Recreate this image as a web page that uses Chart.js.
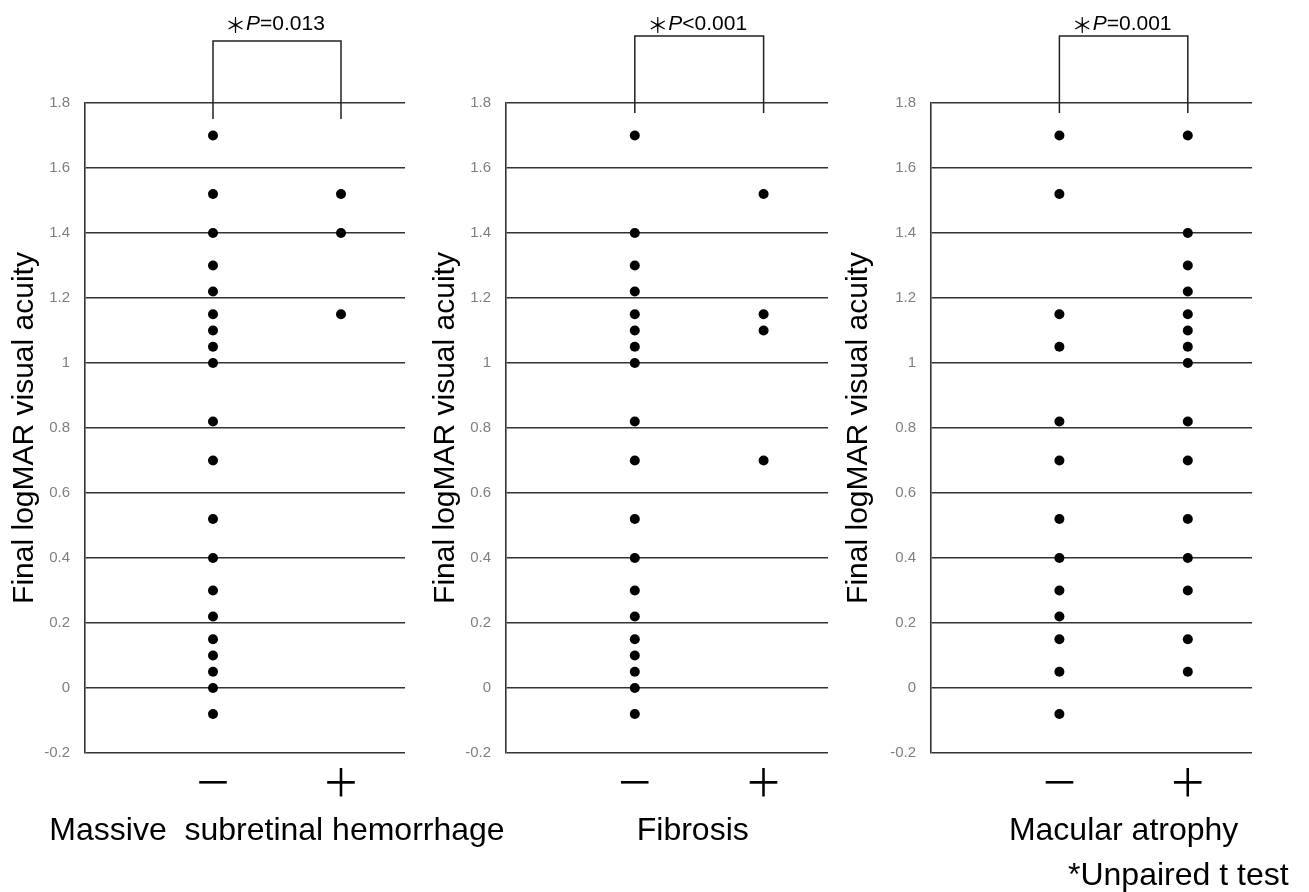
<!DOCTYPE html>
<html>
<head>
<meta charset="utf-8">
<script src="https://cdn.jsdelivr.net/npm/chart.js@4.4.1/dist/chart.umd.min.js"></script>
<style>
  html, body { margin: 0; padding: 0; background: #ffffff; }
  body { width: 1309px; height: 892px; position: relative; overflow: hidden; }
  .panel { position: absolute; top: 0; }
  #note { position: absolute; left: 1068px; top: 857px; font-family: "Liberation Sans", Arial, sans-serif;
          font-size: 32px; line-height: 34px; color: #000; white-space: nowrap; }
</style>
</head>
<body>
<div class="panel" style="left:0px"><canvas id="c1" width="520" height="892"></canvas></div>
<div class="panel" style="left:420px"><canvas id="c2" width="440" height="892"></canvas></div>
<div class="panel" style="left:835px"><canvas id="c3" width="474" height="892"></canvas></div>
<div id="note">*Unpaired t test</div>
<script>
// ---- data ----
const categories = ['－', '＋'];           // x categories (absent / present)
const yAxisTitle = 'Final logMAR visual acuity';
const groupTitles = ['Massive  subretinal hemorrhage', 'Fibrosis', 'Macular atrophy'];
const pLabels = ['=0.013', '<0.001', '=0.001'];

const hemorrhageMinus = [1.70, 1.52, 1.40, 1.30, 1.22, 1.15, 1.10, 1.05, 1.00, 0.82, 0.70, 0.52, 0.40, 0.30, 0.22, 0.15, 0.10, 0.05, 0.00, -0.08];
const hemorrhagePlus  = [1.52, 1.40, 1.15];

const fibrosisMinus = [1.70, 1.40, 1.30, 1.22, 1.15, 1.10, 1.05, 1.00, 0.82, 0.70, 0.52, 0.40, 0.30, 0.22, 0.15, 0.10, 0.05, 0.00, -0.08];
const fibrosisPlus  = [1.52, 1.15, 1.10, 0.70];

const atrophyMinus = [1.70, 1.52, 1.15, 1.05, 0.82, 0.70, 0.52, 0.40, 0.30, 0.22, 0.15, 0.05, -0.08];
const atrophyPlus  = [1.70, 1.40, 1.30, 1.22, 1.15, 1.10, 1.05, 1.00, 0.82, 0.70, 0.52, 0.40, 0.30, 0.15, 0.05];

const yMin = -0.2, yMax = 1.8, yStep = 0.2;

// ---- drawing ----
const LINE = '#333333';
const SANS = '"Liberation Sans", Arial, sans-serif';
const CJK = '"Noto Sans CJK JP", "Noto Sans", sans-serif';

const annotate = {
  id: 'annotate',
  afterDraw(chart, args, o) {
    const ctx = chart.ctx, xs = chart.scales.x, ca = chart.chartArea;
    const x1 = xs.getPixelForValue(1), x2 = xs.getPixelForValue(2);
    const yTop = ca.top - o.bracketTop, yBot = ca.top + o.bracketBottom;
    ctx.save();
    // bracket
    ctx.strokeStyle = '#222';
    ctx.lineWidth = 1.5;
    ctx.beginPath();
    ctx.moveTo(x1, yBot); ctx.lineTo(x1, yTop); ctx.lineTo(x2, yTop); ctx.lineTo(x2, yBot);
    ctx.stroke();
    // p-value text: ＊ P =...
    const parts = [
      { t: '＊', f: '21px ' + CJK, dy: 3 },
      { t: 'P', f: 'italic 21px ' + SANS, dy: 0 },
      { t: o.p, f: '21px ' + SANS, dy: 0 }
    ];
    let total = 0;
    parts.forEach(p => { ctx.font = p.f; p.w = ctx.measureText(p.t).width; total += p.w; });
    let x = (x1 + x2) / 2 - total / 2 - 2;
    ctx.fillStyle = '#000';
    ctx.textBaseline = 'alphabetic';
    ctx.textAlign = 'left';
    const base = ca.top - o.pBase;
    parts.forEach(p => { ctx.font = p.f; ctx.fillText(p.t, x, base + p.dy); x += p.w; });
    // group title
    ctx.font = '32px ' + SANS;
    ctx.textAlign = 'center';
    ctx.fillText(o.title, xs.getPixelForValue(o.titleAt), ca.bottom + 87);
    ctx.restore();
  }
};

function makePanel(id, minus, plus, p, title, geo) {
  const toPts = (arr, idx) => arr.map(v => ({ x: idx + 1, y: v }));
  new Chart(document.getElementById(id), {
    type: 'scatter',
    data: {
      datasets: [
        { label: categories[0], data: toPts(minus, 0) },
        { label: categories[1], data: toPts(plus, 1) }
      ]
    },
    plugins: [annotate],
    options: {
      responsive: false,
      animation: false,
      events: [],
      layout: { padding: { top: 103, right: geo.right, bottom: 79, left: 0 } },
      elements: { point: { radius: 5, backgroundColor: '#000', borderWidth: 0, hoverRadius: 5 } },
      plugins: {
        legend: { display: false },
        tooltip: { enabled: false },
        annotate: { p: p, title: title, titleAt: geo.titleAt, bracketTop: geo.bTop, bracketBottom: geo.bBot, pBase: geo.pBase }
      },
      scales: {
        x: {
          type: 'linear',
          min: 0, max: 2.5,
          afterBuildTicks: s => { s.ticks = categories.map((c, i) => ({ value: i + 1 })); },
          afterFit: s => { s.height = 60; },
          grid: { display: false, drawTicks: false },
          border: { display: false },
          ticks: {
            callback: (v) => categories[Math.round(v) - 1] || '',
            font: { family: CJK, size: 38 },
            color: '#000',
            padding: 6,
            maxRotation: 0
          }
        },
        y: {
          min: yMin, max: yMax,
          afterFit: s => { s.width = geo.axis; },
          ticks: {
            stepSize: yStep,
            callback: v => String(Math.round(v * 10) / 10),
            font: { family: SANS, size: 15 },
            color: '#7f7f7f',
            padding: 15
          },
          grid: { color: LINE, lineWidth: 1.4, drawTicks: false },
          border: { display: true, color: LINE, width: 1.6 },
          title: {
            display: true,
            text: yAxisTitle,
            font: { family: SANS, size: 30 },
            color: '#000',
            padding: { top: geo.tpad, bottom: 0 }
          }
        }
      }
    }
  });
}

makePanel('c1', hemorrhageMinus, hemorrhagePlus, pLabels[0], groupTitles[0],
  { axis: 85, right: 115, tpad: 7, titleAt: 1.5, bTop: 62, bBot: 16, pBase: 73 });
makePanel('c2', fibrosisMinus, fibrosisPlus, pLabels[1], groupTitles[1],
  { axis: 86, right: 32, tpad: 8, titleAt: 1.45, bTop: 67, bBot: 10, pBase: 73 });
makePanel('c3', atrophyMinus, atrophyPlus, pLabels[2], groupTitles[2],
  { axis: 96, right: 57, tpad: 6, titleAt: 1.5, bTop: 67, bBot: 10, pBase: 73 });
</script>
</body>
</html>
